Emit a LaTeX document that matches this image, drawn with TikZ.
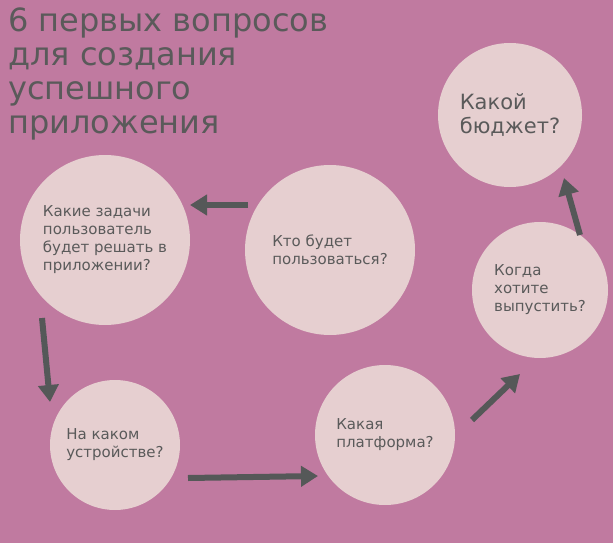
\documentclass[tikz,border=0pt]{standalone}
\usepackage{fontspec}
\setmainfont{DejaVu Sans}
\usetikzlibrary{arrows.meta}
\definecolor{bgpink}{HTML}{C07AA0}
\definecolor{circ}{HTML}{E6CFD0}
\definecolor{txt}{HTML}{5A5A5A}
\definecolor{arr}{HTML}{555858}
\begin{document}
\begin{tikzpicture}[x=1pt,y=-1pt,
  bubble/.style={circle, fill=circ, align=left, text=txt, inner sep=0pt, font=\fontsize{15}{18}\selectfont},
  arrow/.style={-{Triangle[length=17pt,width=20pt]}, line width=6pt, draw=arr}
]
\fill[bgpink] (0,0) rectangle (613,543);
\useasboundingbox (0,0) rectangle (613,543);

% Title
\node[anchor=north west, align=left, text=txt, font=\fontsize{32}{34}\selectfont, inner sep=0pt] (title) at (8,8) {6 первых вопросов\\для создания\\успешного\\приложения};

% Circles
\node[bubble, minimum size=170pt] (who) at (330,250) {Кто будет\\пользоваться?};
\node[bubble, minimum size=170pt] (tasks) at (105,240) {Какие задачи\\пользователь\\будет решать в\\приложении?};
\node[bubble, minimum size=130pt] (device) at (115,445) {На каком\\устройстве?};
\node[bubble, minimum size=140pt] (platform) at (385,435) {Какая\\платформа?};
\node[bubble, minimum size=136pt] (when) at (540,290) {Когда\\хотите\\выпустить?};
\node[bubble, minimum size=144pt, font=\fontsize{21}{24}\selectfont] (budget) at (510,115) {Какой\\бюджет?};

% Arrow ends
\coordinate (a1) at (248,205); \coordinate (b1) at (190,205);
\coordinate (a2) at (42,318);  \coordinate (b2) at (50,402);
\coordinate (a3) at (188,478); \coordinate (b3) at (318,476);
\coordinate (a4) at (472,420); \coordinate (b4) at (520,374);
\coordinate (a5) at (580,235); \coordinate (b5) at (564,178);

% Arrows
\foreach \i in {1,...,5}
  \draw[arrow] (a\i) -- (b\i);
\end{tikzpicture}
\end{document}
